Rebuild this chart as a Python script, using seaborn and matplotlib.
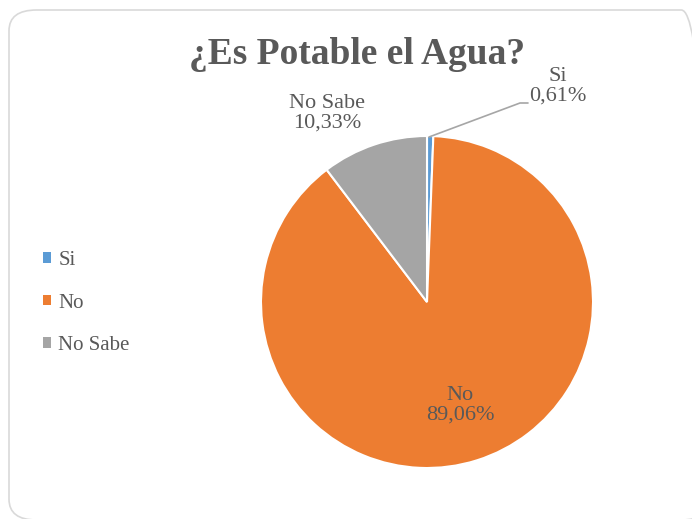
import matplotlib
matplotlib.use("Agg")
import matplotlib.pyplot as plt
import seaborn as sns
from matplotlib.patches import FancyBboxPatch
from matplotlib.lines import Line2D
from matplotlib.font_manager import FontProperties

categories = ["Si", "No", "No Sabe"]
values = [0.61, 89.06, 10.33]
colors = ["#5B9BD5", "#ED7D31", "#A5A5A5"]
title = "¿Es Potable el Agua?"

sns.set_theme(style="white")
FAM = 'Liberation Serif'
plt.rcParams['font.family'] = 'serif'
plt.rcParams['font.serif'] = [FAM, 'DejaVu Serif']
TXT = "#595959"

W, H = 692, 519
fig = plt.figure(figsize=(W / 100, H / 100), dpi=100)
fig.patch.set_facecolor("white")

border = FancyBboxPatch((9 / W, 1 - 520 / H), 700 / W, 510 / H,
                        boxstyle="round,pad=0,rounding_size=0.04",
                        transform=fig.transFigure, fill=False,
                        edgecolor="#D9D9D9", linewidth=1.2)
fig.patches.append(border)

cx, cy, r = 427, 302, 166
ax = fig.add_axes([(cx - r) / W, (H - cy - r) / H, 2 * r / W, 2 * r / H])
wedges, _ = ax.pie(values, colors=colors, startangle=90, counterclock=False,
                   radius=1, wedgeprops=dict(edgecolor="white", linewidth=1.5))
ax.set_xlim(-1, 1)
ax.set_ylim(-1, 1)
ax.set_aspect("auto")
ax.axis("off")

def d(px, py):
    return ((px - cx) / r, (cy - py) / r)

def lab(i):
    return f"{categories[i]}\n{values[i]:.2f}%".replace(".", ",")

fs = 16
for i, (px, py) in zip([0, 1, 2], [(558, 86), (460, 405), (327, 113)]):
    x, y = d(px, py)
    ax.text(x, y, lab(i), ha="center", va="center", fontsize=fs, color=TXT,
            fontfamily=FAM, linespacing=1.05, clip_on=False)

pts = [d(429, 137), d(520, 103), d(528, 103)]
ax.add_line(Line2D([p[0] for p in pts], [p[1] for p in pts], color="#A6A6A6",
                   linewidth=1.2, clip_on=False))

fig.text(357 / W, 1 - 55 / H, title, ha="center", va="center",
         fontsize=27, fontweight="bold", color=TXT, fontfamily=FAM)

handles = [plt.Rectangle((0, 0), 1, 1, facecolor=c, edgecolor="none") for c in colors]
fig.legend(handles, categories, loc="center left", bbox_to_anchor=(24 / W, 1 - 303 / H),
           frameon=False, prop=FontProperties(family=FAM, size=15),
           handlelength=0.4, handleheight=0.4,
           handletextpad=0.35, labelspacing=1.12, labelcolor=TXT)

fig.savefig("out.png", dpi=100, facecolor="white")
